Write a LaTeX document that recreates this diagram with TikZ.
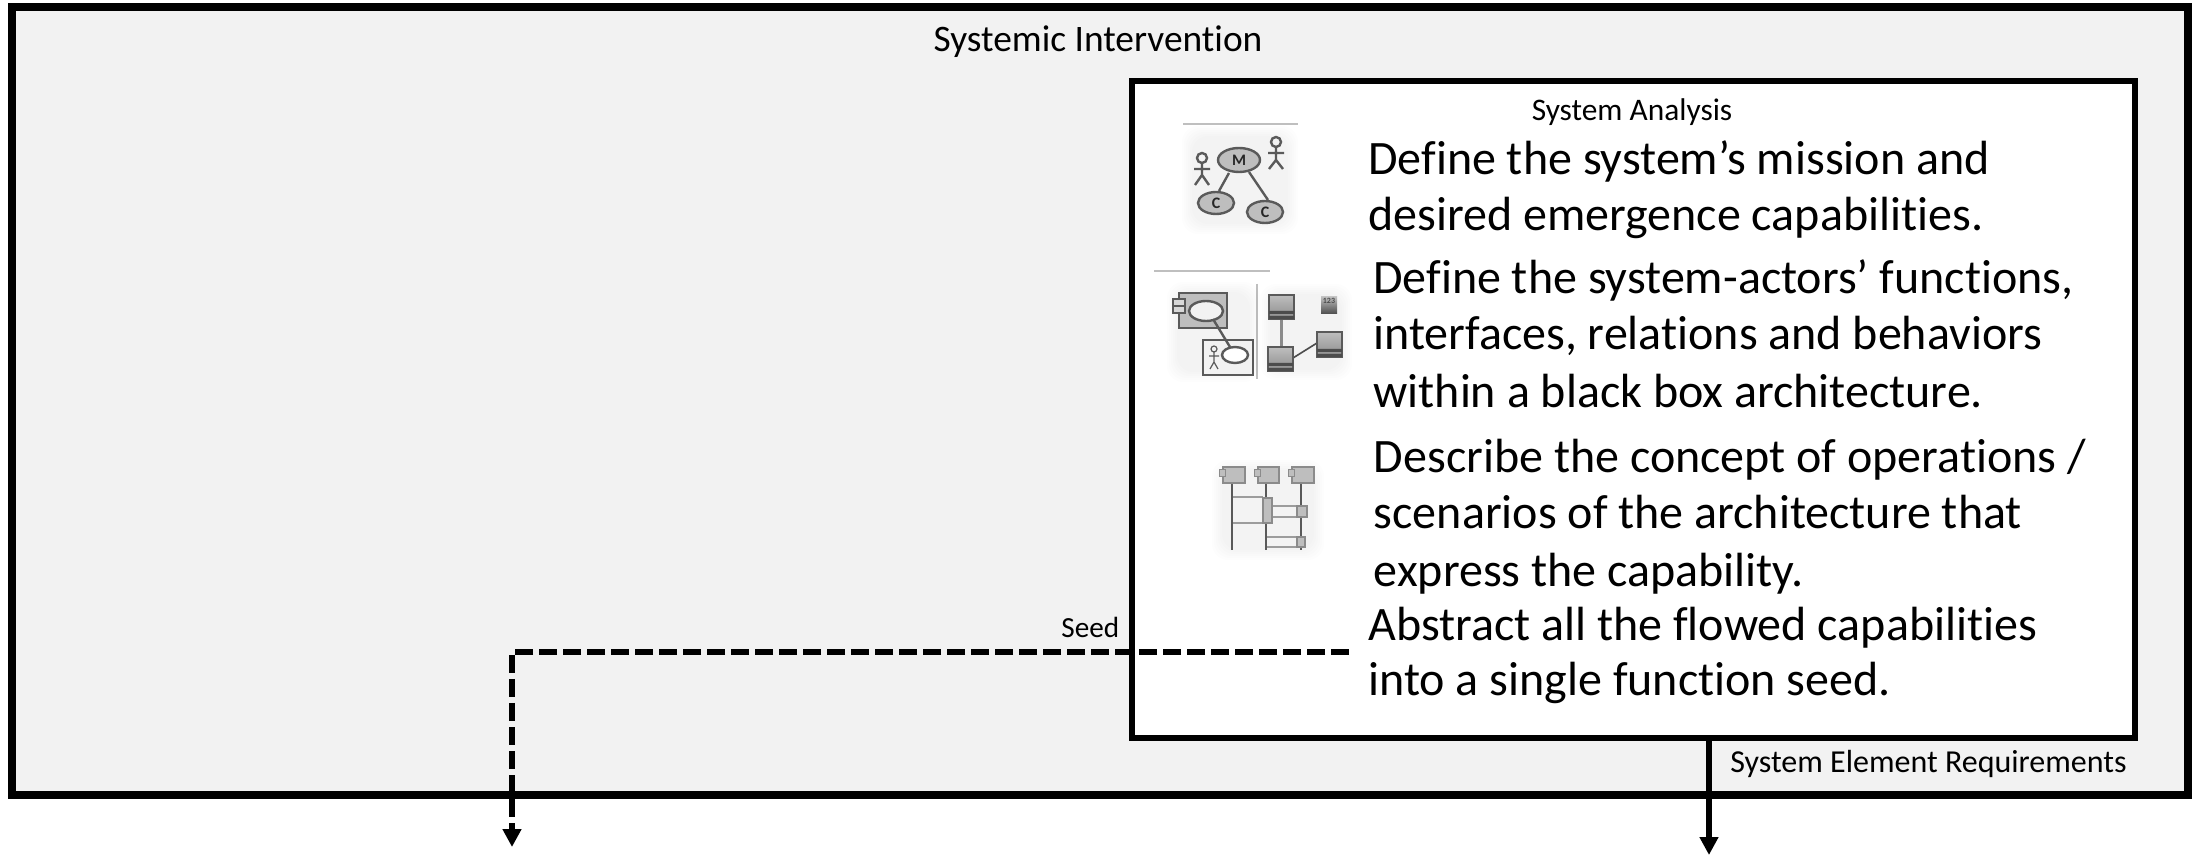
\documentclass[tikz,border=0pt]{standalone}
\usepackage{fontspec}
\setmainfont{Carlito}[Ligatures=CommonOff]
\usetikzlibrary{arrows.meta}
\definecolor{panel}{RGB}{242,242,242}
\definecolor{icoline}{RGB}{90,90,90}
\definecolor{icofill}{RGB}{190,190,190}
\newcommand{\softbg}[4]{%
  \foreach \k in {0,2,...,10}{
    \fill[black,opacity=0.006,rounded corners=8] (#1-\k,#2-\k) rectangle (#3+\k,#4+\k);
  }}
\tikzset{
  x=0.5pt,y=-0.5pt,
  outerbox/.style={draw=black,fill=panel,line width=4pt,minimum width=1088pt,minimum height=393.5pt,inner sep=0pt},
  innerbox/.style={draw=black,fill=white,line width=3pt,minimum width=501.5pt,minimum height=328.5pt,inner sep=0pt},
  bigtext/.style={font=\fontsize{24pt}{28pt}\selectfont,anchor=base west,inner sep=0pt,align=left},
  titletext/.style={font=\fontsize{18.7pt}{22pt}\selectfont,anchor=base,inner sep=0pt},
  smalltext/.style={font=\fontsize{16pt}{19pt}\selectfont,anchor=base west,inner sep=0pt},
  flow/.style={line width=3pt,-{Triangle[length=9pt,width=9pt]}},
  seedflow/.style={flow,dash pattern=on 9pt off 3pt},
  icon/.style={draw=icoline,line width=1.2pt},
  sep/.style={draw=black!25,line width=0.6pt},
  icotxt/.style={font=\bfseries\fontsize{8pt}{8pt}\selectfont,inner sep=0pt,text=black!85},
  grad/.style={icon,top color=icofill,bottom color=black!45},
  band/.style={fill=black!70},
}
\begin{document}
\begin{tikzpicture}
\useasboundingbox (0,0) rectangle (2192,855);
\node[outerbox] (intervention) at (1100,401) {};
\node[titletext] (interventionlabel) at (1098,52) {Systemic Intervention};
\node[innerbox] (analysis) at (1633.5,409.5) {};
\node[titletext,font=\fontsize{15.7pt}{19pt}\selectfont] (analysislabel) at (1632,121) {System Analysis};

\node[bigtext] (t1) at (1368,231) {Define the system’s mission and\\[0pt]desired emergence capabilities.};
\node[bigtext] (t2) at (1373,408) {Define the system-actors’ functions,\\[0pt]interfaces, relations and behaviors\\[1pt]within a black box architecture.};
\node[bigtext] (t3) at (1373.5,587) {Describe the concept of operations /\\[0pt]scenarios of the architecture that\\[1pt]express the capability.};
\node[bigtext] (t4) at (1368,696) {Abstract all the flowed capabilities\\[0pt]into a single function seed.};

\node[smalltext,font=\fontsize{14.6pt}{17pt}\selectfont] (seedlabel) at (1061,638) {Seed};
\node[smalltext] (reqlabel) at (1730,772) {System Element Requirements};

\coordinate (seedsrc) at (1349,652);
\coordinate (seedbend) at (512,652);
\coordinate (seedend) at (512,847);
\coordinate (reqsrc) at (1709,738);
\coordinate (reqend) at (1709,855);
\draw[seedflow] (seedsrc) -- (seedbend) -- (seedend);
\draw[flow] (reqsrc) -- (reqend);

% icon 1
\draw[sep] (1183,124) -- (1298,124);
\softbg{1192}{136}{1288}{224}
\draw[icon] (1202,158) circle (5);
\draw[icon] (1202,163) -- (1202,175) (1194,169) -- (1210,169) (1195,185) -- (1202,175) -- (1209,185);
\draw[icon] (1276,142) circle (5);
\draw[icon] (1276,147) -- (1276,160) (1268,153) -- (1284,153) (1269,169) -- (1276,160) -- (1283,169);
\draw[icon] (1229,173) -- (1219,191) (1249,172) -- (1268,200);
\filldraw[icon,fill=icofill] (1239,160) ellipse (21 and 12);
\filldraw[icon,fill=icofill] (1216,203) ellipse (18 and 11);
\filldraw[icon,fill=icofill] (1265,212) ellipse (18 and 11);
\node[icotxt] (m1) at (1239,160) {M};
\node[icotxt] (c1) at (1216,203) {C};
\node[icotxt] (c2) at (1265,212) {C};

% icon 2
\draw[sep] (1154,271) -- (1270,271);
\draw[sep] (1257,284) -- (1257,379);
\softbg{1177}{292}{1250}{372}
\softbg{1270}{294}{1342}{370}
\filldraw[icon,fill=icofill] (1179,293) rectangle (1227,328);
\filldraw[icon,fill=icofill!60] (1173,299) rectangle (1185,306);
\filldraw[icon,fill=icofill!60] (1173,306) rectangle (1185,313);
\filldraw[icon,fill=panel] (1206,311) ellipse (17 and 10);
\filldraw[icon,fill=panel] (1203,340) rectangle (1253,375);
\draw[icon] (1213,319) -- (1230,347);
\filldraw[icon,fill=white] (1235,355) ellipse (13 and 8);
\draw[icon,line width=0.6pt] (1214,349) circle (3);
\draw[icon,line width=0.6pt] (1214,352) -- (1214,362) (1209,356) -- (1219,356) (1210,369) -- (1214,362) -- (1218,369);
\draw[icoline!70,line width=1.5pt] (1281,319) -- (1281,347);
\draw[black!70,line width=0.8pt] (1293,358) -- (1317,343);
\draw[grad] (1269,295) rectangle (1294,319);
\fill[band] (1269,311) rectangle (1294,314) (1269,316) rectangle (1294,319);
\draw[grad] (1268,347) rectangle (1293,371);
\fill[band] (1268,363) rectangle (1293,366) (1268,368) rectangle (1293,371);
\draw[grad] (1317,332) rectangle (1342,357);
\fill[band] (1317,349) rectangle (1342,352) (1317,354) rectangle (1342,357);
\fill[top color=icofill,bottom color=black!70] (1321,297) rectangle (1337,314);
\node[icotxt,font=\bfseries\fontsize{4pt}{4pt}\selectfont,text=black!70] (num) at (1329,301) {123};

% icon 3
\softbg{1222}{470}{1314}{550}
\draw[icoline!60,line width=0.9pt] (1232,497) -- (1263,497) (1232,523) -- (1263,523) (1272,506) -- (1297,506) (1272,517) -- (1297,517) (1266,537) -- (1297,537) (1266,547) -- (1297,547);
\draw[black!65,line width=1.3pt] (1232,483) -- (1232,550) (1266,483) -- (1266,550) (1301,483) -- (1301,550);
\foreach \a/\b in {1222/1245,1257/1279,1291/1314}{
  \filldraw[draw=icoline!70,fill=icofill,line width=0.7pt] (\a+1,467) rectangle (\b,483);
  \filldraw[draw=icoline!70,fill=icofill,line width=0.5pt] (\a-3,470) rectangle (\a+3,477);
}
\filldraw[draw=icoline!70,fill=icofill,line width=0.7pt] (1263,498) rectangle (1272,523);
\filldraw[draw=icoline!70,fill=icofill,line width=0.7pt] (1297,506) rectangle (1307,517);
\filldraw[draw=icoline!70,fill=icofill,line width=0.7pt] (1297,537) rectangle (1305,547);
\end{tikzpicture}
\end{document}
